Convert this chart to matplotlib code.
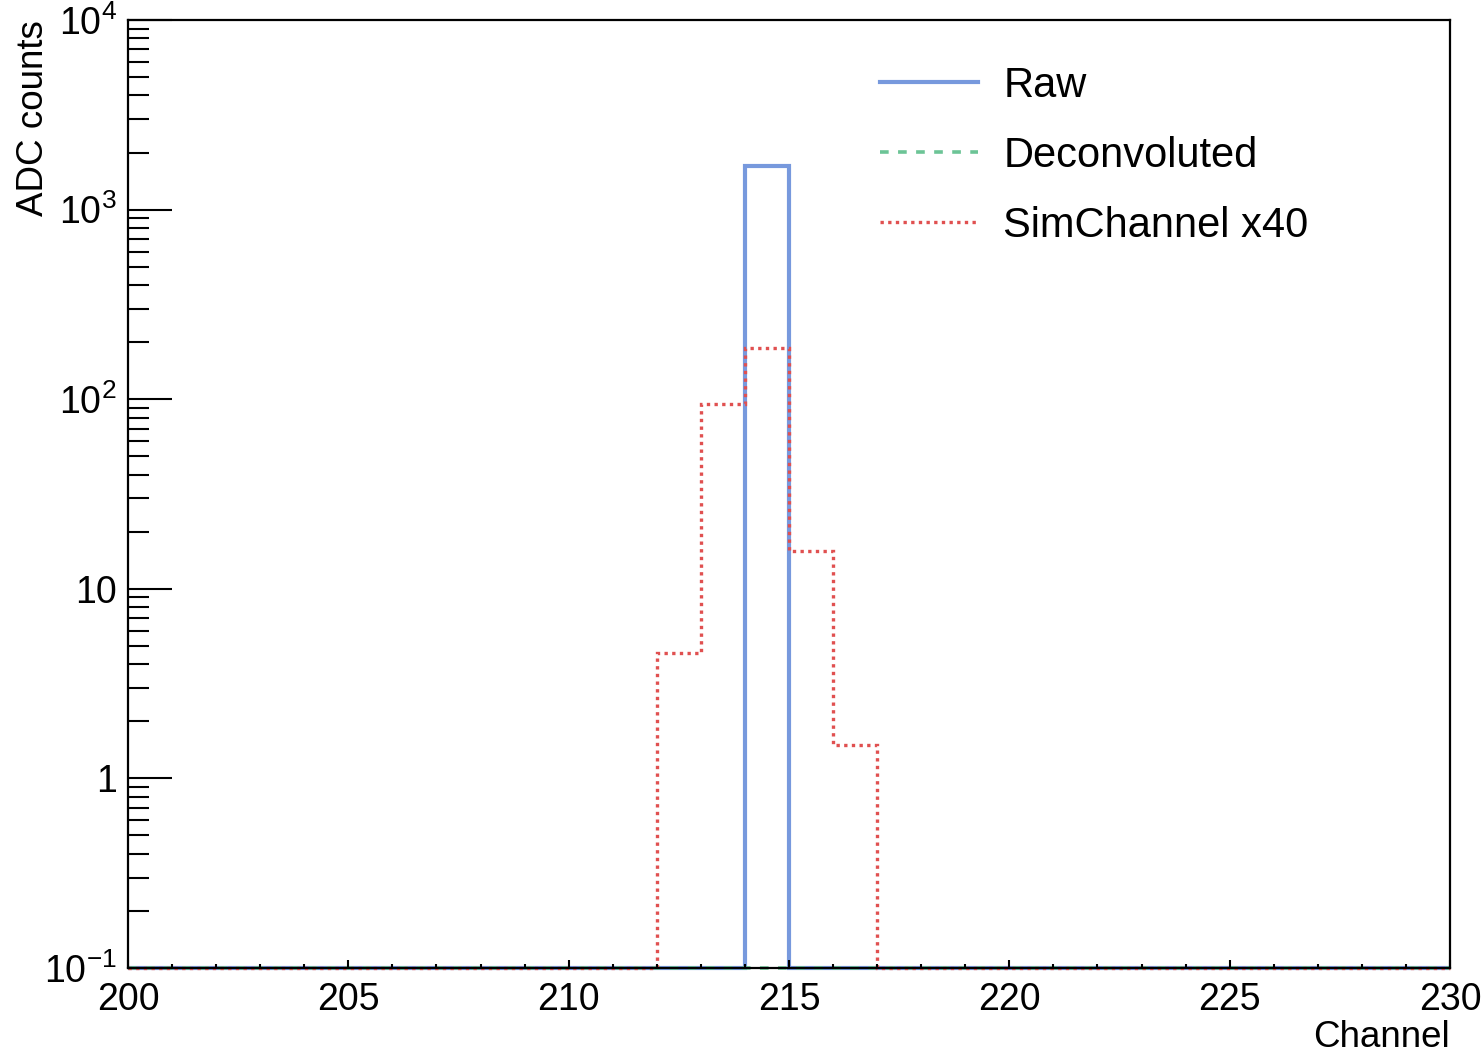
import numpy as np
import matplotlib
matplotlib.use('Agg')
import matplotlib.pyplot as plt
from matplotlib.ticker import MultipleLocator, LogLocator, FixedFormatter, FixedLocator, NullFormatter

plt.rcParams['font.family'] = ['Liberation Sans', 'DejaVu Sans']
plt.rcParams['mathtext.fontset'] = 'custom'
plt.rcParams['mathtext.rm'] = 'Liberation Sans'
plt.rcParams['mathtext.default'] = 'rm'

# histogram binning: channels 200..230, one channel per bin
edges = np.arange(200, 231, 1)

# bin contents (zero bins sit on the floor of the log axis)
raw = np.zeros(30)
raw[14] = 1700.0                      # channel 214

deconv = np.zeros(30)

sim_x40 = np.zeros(30)
sim_x40[12] = 4.6                     # channel 212
sim_x40[13] = 94.0                    # 213
sim_x40[14] = 186.0                   # 214
sim_x40[15] = 15.8                    # 215
sim_x40[16] = 1.5                     # 216

ymin, ymax = 0.1, 1e4
ytick_vals = [0.1, 1, 10, 100, 1000, 10000]
ytick_labels = [r'$10^{-1}$', '1', '10', r'$10^{2}$', r'$10^{3}$', r'$10^{4}$']

fig = plt.figure(figsize=(14.82, 10.54), dpi=100)
ax = fig.add_axes([128/1482, 86/1054, 1322/1482, 948/1054])

ax.stairs(np.maximum(raw, ymin), edges, baseline=None, color='#7799dd', lw=3.0,
          label='Raw', clip_on=False)
ax.stairs(np.maximum(deconv, ymin), edges, baseline=None, color='#6cc496', lw=2.6,
          linestyle=(0, (2.4, 2.6)), label='Deconvoluted', clip_on=False)
ax.stairs(np.maximum(sim_x40, ymin), edges, baseline=None, color='#e05050', lw=2.4,
          linestyle=(0, (1, 1.3)), label='SimChannel x40', clip_on=False)

ax.set_yscale('log')
ax.set_ylim(ymin, ymax)
ax.set_xlim(200, 230)

ax.xaxis.set_major_locator(MultipleLocator(5))
ax.xaxis.set_minor_locator(MultipleLocator(1))
ax.yaxis.set_major_locator(FixedLocator(ytick_vals))
ax.yaxis.set_major_formatter(FixedFormatter(ytick_labels))
ax.yaxis.set_minor_locator(LogLocator(base=10, subs=np.arange(2, 10)))
ax.yaxis.set_minor_formatter(NullFormatter())

ax.tick_params(axis='both', which='both', direction='in', top=False, right=False,
               labelsize=27, width=1.5)
ax.tick_params(axis='x', which='major', length=6, pad=10)
ax.tick_params(axis='x', which='minor', length=3)
ax.tick_params(axis='y', which='major', length=31.5, pad=8)
ax.tick_params(axis='y', which='minor', length=15)

for s in ax.spines.values():
    s.set_linewidth(1.6)

ax.set_ylabel('ADC counts', fontsize=26.5, loc='top')
ax.yaxis.set_label_coords(-0.058, 1.0)
ax.set_xlabel('Channel', fontsize=26.5, loc='right')
ax.xaxis.set_label_coords(1.0, -0.055)

ax.legend(loc='upper left', bbox_to_anchor=(0.569, 0.952), frameon=False, fontsize=30,
          handlelength=2.35, handletextpad=0.6, labelspacing=0.72, borderpad=0, borderaxespad=0)

fig.savefig('out.png', dpi=100)
